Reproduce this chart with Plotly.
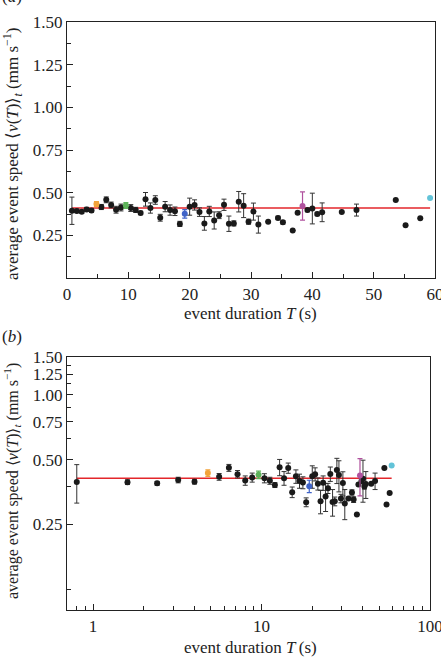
import math
import plotly.graph_objects as go

# ---------------- data ----------------
duration_s = [0.8, 1.6, 2.4, 3.2, 4.0, 4.8, 5.6, 6.4, 7.2, 8.0,
              8.8, 9.6, 10.4, 11.2, 12.0, 12.8, 13.6, 14.4, 15.2, 16.0,
              16.8, 17.6, 18.4, 19.2, 20.0, 20.8, 21.6, 22.4, 23.2, 24.0,
              24.8, 25.6, 26.4, 27.2, 28.0, 28.8, 29.6, 30.4, 31.2, 32.8,
              34.4, 35.2, 36.8, 37.6, 38.4, 39.2, 40.0, 40.8, 41.6, 44.8,
              47.2, 53.6, 55.2, 57.6, 59.2]
speed_mm_s = [0.394, 0.393, 0.388, 0.402, 0.395, 0.433, 0.416, 0.458, 0.428, 0.400,
              0.413, 0.425, 0.410, 0.399, 0.381, 0.461, 0.410, 0.457, 0.353, 0.418,
              0.398, 0.391, 0.317, 0.376, 0.418, 0.428, 0.386, 0.320, 0.390, 0.337,
              0.368, 0.429, 0.318, 0.320, 0.447, 0.424, 0.330, 0.389, 0.313, 0.330,
              0.352, 0.326, 0.278, 0.383, 0.422, 0.398, 0.407, 0.375, 0.385, 0.386,
              0.398, 0.457, 0.309, 0.350, 0.469]
speed_err = [0.080, 0.010, 0.008, 0.012, 0.010, 0.015, 0.015, 0.017, 0.017, 0.020,
             0.020, 0.017, 0.020, 0.015, 0.010, 0.040, 0.030, 0.025, 0.020, 0.030,
             0.030, 0.025, 0.015, 0.025, 0.050, 0.030, 0.025, 0.040, 0.030, 0.050,
             0.020, 0.033, 0.045, 0.015, 0.060, 0.070, 0.015, 0.050, 0.050, 0.0,
             0.010, 0.010, 0.0, 0.0, 0.083, 0.010, 0.090, 0.010, 0.055, 0.0,
             0.035, 0.0, 0.0, 0.0, 0.0]
highlight_durations = [4.8, 9.6, 19.2, 38.4, 59.2]
highlight_colors = ["#F2A33A", "#5DB35A", "#3F63C8", "#B0529E", "#62C3D8"]
mean_speed = 0.41

top_y_ticks = [0.25, 0.50, 0.75, 1.00, 1.25, 1.50]
top_x_ticks = [0, 10, 20, 30, 40, 50, 60]
bot_y_ticks = [0.25, 0.50, 0.75, 1.00, 1.25, 1.50]
bot_x_ticks = [1, 10, 100]

# ---------------- figure ----------------
FONT = "Liberation Serif"
INK = "#222222"
W, H = 441, 657
ML, MR, MT, MB = 67, 6, 22, 47
PW, PH = W - ML - MR, H - MT - MB


def py(p):  # pixel y -> paper y
    return (H - MB - p) / PH


def px(p):  # pixel x -> paper x
    return (p - ML) / PW


fig = go.Figure()

hl = dict(zip(highlight_durations, highlight_colors))
black_idx = [i for i, t in enumerate(duration_s) if t not in hl]

for xa, ya in (("x", "y"), ("x2", "y2")):
    fig.add_trace(go.Scatter(
        x=[duration_s[0], duration_s[-1]], y=[mean_speed, mean_speed],
        mode="lines", line=dict(color="#E3262B", width=1.5),
        xaxis=xa, yaxis=ya, showlegend=False, hoverinfo="skip"))
    fig.add_trace(go.Scatter(
        x=[duration_s[i] for i in black_idx],
        y=[speed_mm_s[i] for i in black_idx],
        error_y=dict(type="data", array=[speed_err[i] for i in black_idx],
                     color="#333333", thickness=1, width=2.5),
        mode="markers", marker=dict(color="#1a1a1a", size=6),
        xaxis=xa, yaxis=ya, showlegend=False))
    for t, c in hl.items():
        i = duration_s.index(t)
        fig.add_trace(go.Scatter(
            x=[t], y=[speed_mm_s[i]],
            error_y=dict(type="data", array=[speed_err[i]], color=c,
                         thickness=1.2, width=2.5),
            mode="markers", marker=dict(color=c, size=6),
            xaxis=xa, yaxis=ya, showlegend=False))

common = dict(showline=True, linecolor=INK, linewidth=1.2, mirror=True,
              ticks="inside", ticklen=6, tickwidth=1, tickcolor=INK,
              showgrid=False, zeroline=False, ticklabeloverflow="allow",
              automargin=False,
              tickfont=dict(family=FONT, size=17, color=INK))

top_bottom = py(278)
bot_top = py(357)

fig.update_layout(
    width=W, height=H,
    margin=dict(l=ML, r=MR, t=MT, b=MB, autoexpand=False),
    paper_bgcolor="white", plot_bgcolor="white",
    xaxis=dict(domain=[0, 1], anchor="y", range=[0, 60],
               tickvals=top_x_ticks, ticktext=[str(v) for v in top_x_ticks],
               minor=dict(ticks="inside", ticklen=4, tickcolor=INK, dtick=5, tick0=0),
               **common),
    yaxis=dict(domain=[top_bottom, 1], anchor="x", range=[0, 1.5],
               tickvals=top_y_ticks, ticktext=[f"{v:.2f}" for v in top_y_ticks],
               minor=dict(ticks="inside", ticklen=4, tickcolor=INK,
                          tickvals=[0.125, 0.375, 0.625, 0.875, 1.125, 1.375]),
               **common),
    xaxis2=dict(domain=[0, px(430)], anchor="y2", type="log",
                range=[math.log10(0.7), 2],
                tickvals=bot_x_ticks, ticktext=[str(v) for v in bot_x_ticks],
                minor=dict(ticks="inside", ticklen=4, tickcolor=INK,
                           tickvals=[0.7, 0.8, 0.9, 2, 3, 4, 5, 6, 7, 8, 9,
                                     20, 30, 40, 50, 60, 70, 80, 90]),
                **common),
    yaxis2=dict(domain=[0, bot_top], anchor="x2", type="log",
                range=[-1, math.log10(1.5)],
                tickvals=bot_y_ticks, ticktext=[f"{v:.2f}" for v in bot_y_ticks],
                minor=dict(ticks="inside", ticklen=4, tickcolor=INK,
                           tickvals=[0.125, 0.375, 0.625, 0.875, 1.125, 1.375]),
                **common),
)

ytitle = ("average event speed \u27e8<i>v</i>(<i>T</i>)\u27e9<sub><i>t</i></sub>"
          " (mm s<sup>\u22121</sup>)")
xtitle = "event duration <i>T</i>\u2009(s)"
ann = [
    dict(text="(<i>a</i>)", x=px(0), y=py(-3), xanchor="left", yanchor="middle",
         font=dict(size=17)),
    dict(text="(<i>b</i>)", x=px(0), y=py(336), xanchor="left", yanchor="middle",
         font=dict(size=17)),
    dict(text=xtitle, x=px(250), y=py(313), xanchor="center", yanchor="middle",
         font=dict(size=17)),
    dict(text=xtitle, x=px(250), y=py(647), xanchor="center", yanchor="middle",
         font=dict(size=17)),
    dict(text=ytitle, x=px(12), y=py(154), xanchor="center", yanchor="middle",
         textangle=-90, font=dict(size=17)),
    dict(text=ytitle, x=px(12), y=py(481), xanchor="center", yanchor="middle",
         textangle=-90, font=dict(size=16)),
]
for a in ann:
    a.update(xref="paper", yref="paper", showarrow=False)
    a["font"].update(family=FONT, color=INK)
fig.update_layout(annotations=ann)

fig.write_html("out.html")
